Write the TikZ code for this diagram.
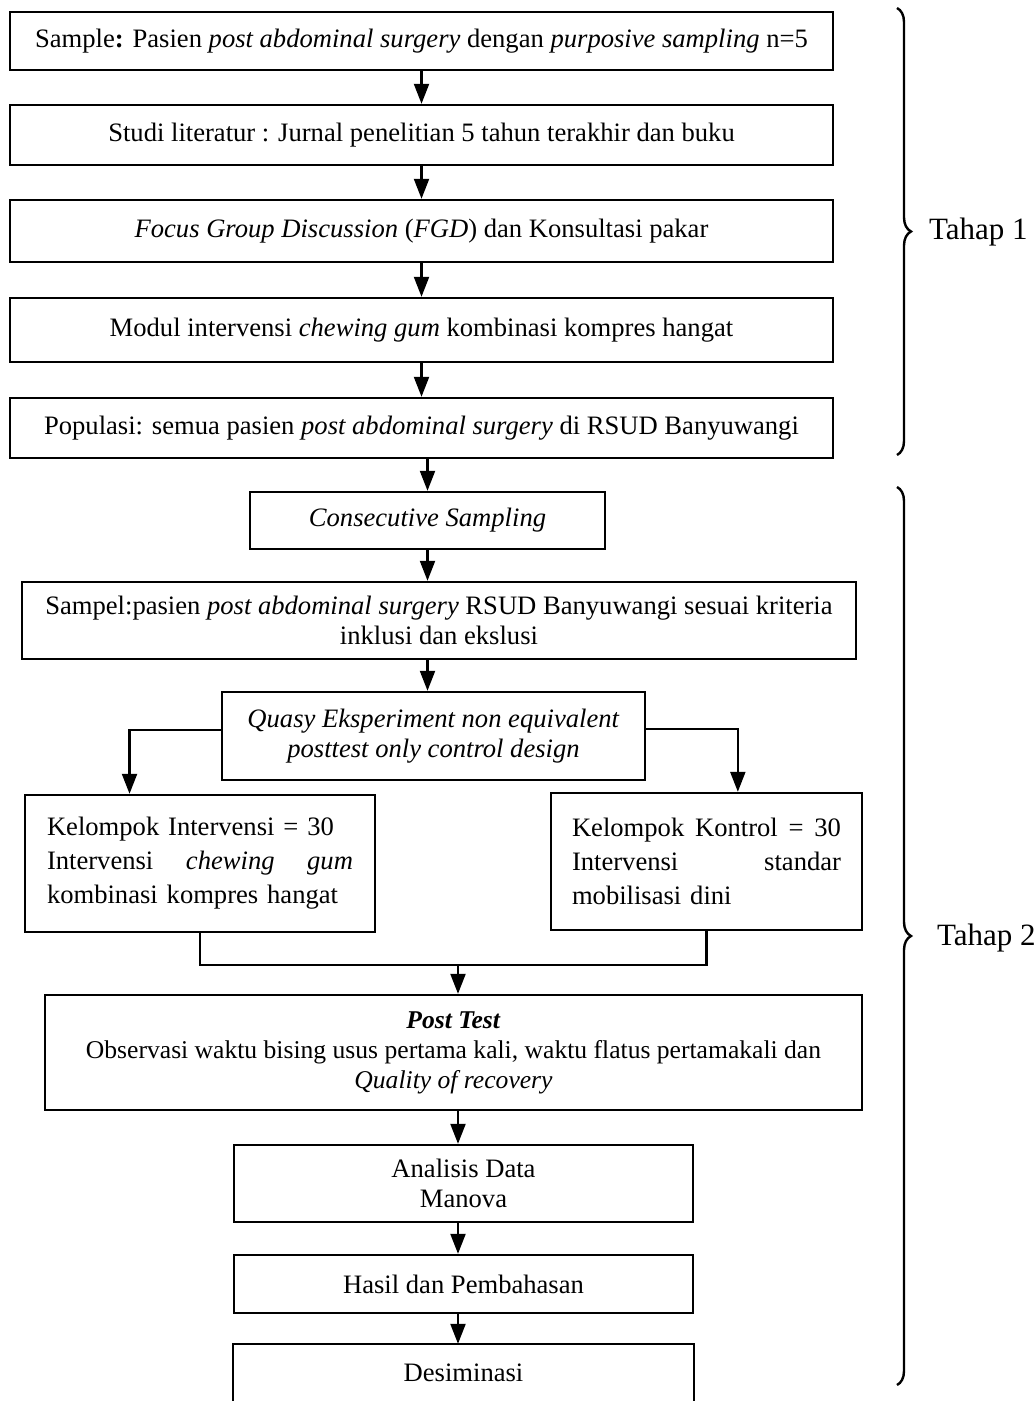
\documentclass[tikz,border=0pt]{standalone}
\usepackage{fontspec}
\setmainfont{Liberation Serif}
\usetikzlibrary{arrows.meta, positioning, calc, decorations.pathreplacing}
\tikzset{
  box/.style    = {rectangle, draw, line width=1.2pt, inner sep=0pt,
                   align=center, font=\fontsize{13.3}{15}\selectfont},
  groupbox/.style = {box, align=left, font=\fontsize{13.3}{17}\selectfont},
  arrow/.style  = {line width=1.1pt, -{Triangle[length=10pt,width=7.5pt]}},
  link/.style   = {line width=1.1pt},
  stage/.style  = {anchor=west, font=\fontsize{15.5}{18}\selectfont},
  stagebrace/.style = {line width=1.2pt, decorate, decoration={brace, amplitude=7pt}},
}

\begin{document}
\begin{tikzpicture}[x=0.5pt, y=-0.5pt]

    \useasboundingbox (0,0) rectangle (1035,1401);
    \clip (0,0) rectangle (1035,1401);

    % Tahap 1
    \node[box, minimum width=411.5pt, minimum height=29pt] (sample) at (421.5, 41)
      {Sample\textbf{:} Pasien \textit{post abdominal surgery} dengan \textit{purposive sampling} n=5};
    \node[box, minimum width=411.5pt, minimum height=30pt] (studi) at (421.5, 135)
      {Studi literatur : Jurnal penelitian 5 tahun terakhir dan buku};
    \node[box, minimum width=411.5pt, minimum height=31pt] (fgd) at (421.5, 231)
      {\textit{Focus Group Discussion} (\textit{FGD}) dan Konsultasi pakar};
    \node[box, minimum width=411.5pt, minimum height=32pt] (modul) at (421.5, 330)
      {Modul intervensi \textit{chewing gum} kombinasi kompres hangat};
    \node[box, minimum width=411.5pt, minimum height=30pt] (populasi) at (421.5, 428)
      {Populasi: semua pasien \textit{post abdominal surgery} di RSUD Banyuwangi};

    \draw[arrow] (sample) -- (studi);
    \draw[arrow] (studi) -- (fgd);
    \draw[arrow] (fgd) -- (modul);
    \draw[arrow] (modul) -- (populasi);

    % Tahap 2
    \node[box, minimum width=177.5pt, minimum height=28.5pt] (consec) at (427.5, 520.5)
      {\textit{Consecutive Sampling}};
    \node[box, minimum width=417pt, minimum height=38.5pt] (sampel) at (439, 620.5)
      {Sampel:pasien \textit{post abdominal surgery} RSUD Banyuwangi sesuai kriteria\\ inklusi dan ekslusi};
    \node[box, minimum width=211.5pt, minimum height=44pt] (quasy) at (433.5, 736)
      {\textit{Quasy Eksperiment non equivalent}\\ \textit{posttest only control design}};
    \node[groupbox, text width=153pt, minimum width=175pt, minimum height=68.5pt] (interv) at (200, 863.5)
      {Kelompok Intervensi = 30\\
       Intervensi\hfill\textit{chewing}\hfill\textit{gum}\\
       kombinasi kompres hangat};
    \node[groupbox, text width=134.5pt, minimum width=155.5pt, minimum height=68.5pt] (kontrol) at (706.5, 861.5)
      {Kelompok\hfill Kontrol\hfill =\hfill 30\\
       Intervensi\hfill standar\\
       mobilisasi dini};
    \node[box, font=\fontsize{12.8}{15}\selectfont, minimum width=408.5pt, minimum height=57.5pt] (posttest) at (453.5, 1052.5)
      {\textbf{\textit{Post Test}}\\
       Observasi waktu bising usus pertama kali, waktu flatus pertamakali dan\\
       \textit{Quality of recovery}};
    \node[box, minimum width=229.5pt, minimum height=38.5pt] (analisis) at (463.5, 1183.5)
      {Analisis Data\\ Manova};
    \node[box, minimum width=229.5pt, minimum height=29pt] (hasil) at (463.5, 1284)
      {Hasil dan Pembahasan};
    \node[box, draw=none, minimum width=229.5pt, minimum height=28pt] (desim) at (463.5, 1373)
      {Desiminasi};
    \draw[line width=1.2pt] (desim.south west) -- (desim.north west)
      -- (desim.north east) -- (desim.south east);

    \coordinate (join) at (458, 965);

    \draw[arrow] (populasi.south -| consec.north) -- (consec.north);
    \draw[arrow] (consec.south) -- (consec.south |- sampel.north);
    \draw[arrow] (sampel.south -| consec.south) -- (quasy.north -| consec.south);
    \draw[arrow] ([yshift=3pt]quasy.west) -| ($(interv.north west)!0.3!(interv.north east)$);
    \draw[arrow] ([yshift=3.5pt]quasy.east) -| ($(kontrol.north west)!0.6!(kontrol.north east)$);
    \draw[link] (interv.south) |- (join) -| (kontrol.south);
    \draw[arrow] (join) -- (join |- posttest.north);
    \draw[arrow] (join |- posttest.south) -- (join |- analisis.north);
    \draw[arrow] (join |- analisis.south) -- (join |- hasil.north);
    \draw[arrow] (join |- hasil.south) -- (join |- desim.north);

    % braces
    \draw[stagebrace] (897, 8) -- (897, 455);
    \node[stage] (tahap1) at (922, 232) {Tahap 1};
    \draw[stagebrace] (897, 487) -- (897, 1385);
    \node[stage] (tahap2) at (930, 938) {Tahap 2};

\end{tikzpicture}
\end{document}
